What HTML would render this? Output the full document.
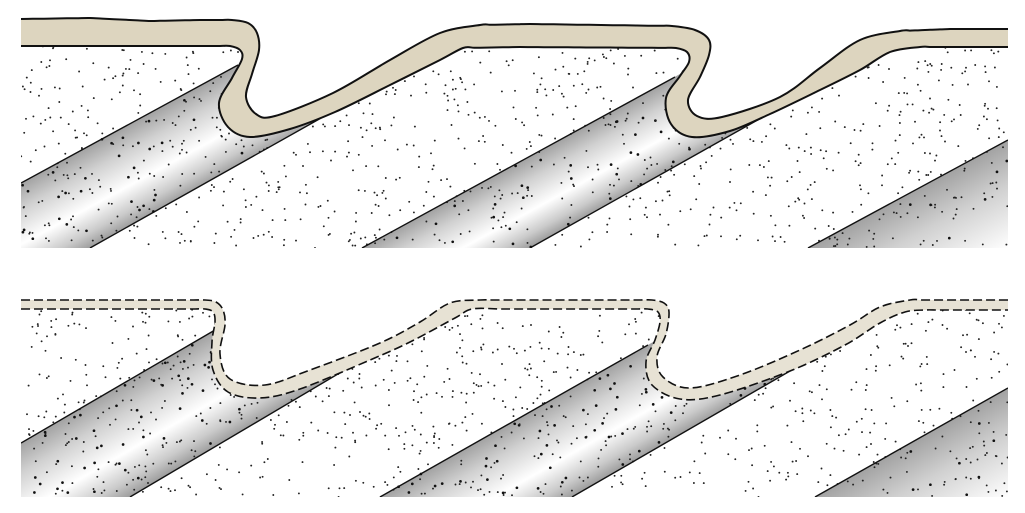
<!DOCTYPE html>
<html><head><meta charset="utf-8"><style>html,body{margin:0;padding:0;background:#fff;width:1025px;height:513px;overflow:hidden}</style></head>
<body>
<svg id="s" xmlns="http://www.w3.org/2000/svg" width="1025" height="513" viewBox="0 0 1025 513">
<defs>
<clipPath id="c1"><rect x="21" y="0" width="987" height="248"/></clipPath>
<clipPath id="c2"><rect x="21" y="280" width="987" height="217"/></clipPath>
</defs>
<g id="p1" clip-path="url(#c1)"></g>
<g id="p2" clip-path="url(#c2)"></g>
</svg>
<script>
(function(){
var NS="http://www.w3.org/2000/svg",svg=document.getElementById('s'),defs=svg.querySelector('defs');
var seed=12345;function rnd(){seed=(seed*1103515245+12345)%2147483648;return seed/2147483648;}
function el(t,a,p){var e=document.createElementNS(NS,t);for(var k in a)e.setAttribute(k,a[k]);(p||svg).appendChild(e);return e;}
function dens(pts){var r=[pts[0]];for(var i=1;i<pts.length;i++){var a=pts[i-1],b=pts[i];var dx=b[0]-a[0],dy=b[1]-a[1];
 if(Math.abs(dy)<4&&Math.abs(dx)>30){var n=Math.ceil(Math.abs(dx)/12);for(var k=1;k<n;k++)r.push([+(a[0]+dx*k/n).toFixed(1),+(a[1]+dy*k/n).toFixed(1)]);}
 r.push(b);}return r;}
function smooth(pts){pts=dens(pts);var d="M"+pts[0][0]+","+pts[0][1];for(var i=0;i<pts.length-1;i++){var p0=pts[i-1]||pts[i],p1=pts[i],p2=pts[i+1],p3=pts[i+2]||p2;
var c1=[p1[0]+(p2[0]-p0[0])/6,p1[1]+(p2[1]-p0[1])/6],c2=[p2[0]-(p3[0]-p1[0])/6,p2[1]-(p3[1]-p1[1])/6];
d+=" C"+c1[0].toFixed(1)+","+c1[1].toFixed(1)+" "+c2[0].toFixed(1)+","+c2[1].toFixed(1)+" "+p2[0]+","+p2[1];}return d;}
function inPoly(x,y,P){var c=false;for(var i=0,j=P.length-1;i<P.length;j=i++){if(((P[i][1]>y)!=(P[j][1]>y))&&(x<(P[j][0]-P[i][0])*(y-P[i][1])/(P[j][1]-P[i][1])+P[i][0]))c=!c;}return c;}
function polyArea(P){var a=0;for(var i=0,j=P.length-1;i<P.length;j=i++)a+=(P[j][0]+P[i][0])*(P[j][1]-P[i][1]);return Math.abs(a/2);}
var gid=0;
function panel(g,y0,y1,stripes,outer,inner,dashed){
  stripes.forEach(function(s){
    var id="g"+(gid++);
    var t=s.t,b=s.b;
    var dx=t[1][0]-t[0][0],dy=t[1][1]-t[0][1],L=Math.sqrt(dx*dx+dy*dy);var nx=-dy/L,ny=dx/L;if(ny<0){nx=-nx;ny=-ny;}
    var px=t[0][0],py=t[0][1];var dist;
    if(b){var bx=b[0][0],by=b[0][1];dist=(bx-px)*nx+(by-py)*ny;}else dist=160;
    var lg=el('linearGradient',{id:id,gradientUnits:'userSpaceOnUse',x1:px,y1:py,x2:px+nx*dist,y2:py+ny*dist},defs);
    [[0,'#a2a2a2'],[0.25,'#d0d0d0'],[0.6,'#ffffff'],[0.85,'#cacaca'],[1,'#9c9c9c']].forEach(function(st){el('stop',{offset:st[0],'stop-color':st[1]},lg);});
    el('polygon',{points:s.poly.map(function(p){return p.join(',')}).join(' '),fill:'url(#'+id+')'},g);
    var n=Math.round(polyArea(s.poly)/75);
    for(var i=0;i<n*3;i++){var x=21+rnd()*987,y=y0+rnd()*(y1-y0);if(inPoly(x,y,s.poly)&&rnd()<0.34)el('circle',{cx:x.toFixed(1),cy:y.toFixed(1),r:1.35,fill:'#111'},g);}
  });
  var ns=Math.round(987*(y1-y0)/190);
  for(var i=0;i<ns;i++){var x=21+rnd()*987,y=y0+rnd()*(y1-y0);el('circle',{cx:x.toFixed(1),cy:y.toFixed(1),r:0.95,fill:'#222'},g);}
  stripes.forEach(function(s){
    el('line',{x1:s.t[0][0],y1:s.t[0][1],x2:s.t[1][0],y2:s.t[1][1],stroke:'#111','stroke-width':1.4},g);
    if(s.b)el('line',{x1:s.b[0][0],y1:s.b[0][1],x2:s.b[1][0],y2:s.b[1][1],stroke:'#111','stroke-width':1.4},g);
  });
  el('path',{d:smooth(outer)+" L1012,"+(y0-20)+" L15,"+(y0-20)+" Z",fill:'#fff'},g);
  var ri=inner.slice().reverse();
  var rd=smooth(ri).replace(/^M/,"L");
  el('path',{d:smooth(outer)+" "+rd+" Z",fill:dashed?'#e7e2d4':'#ddd5bf'},g);
  var st=dashed?{fill:'none',stroke:'#111','stroke-width':1.6,'stroke-dasharray':'9,4'}:{fill:'none',stroke:'#111','stroke-width':2};
  var a=JSON.parse(JSON.stringify(st));a.d=smooth(outer);el('path',a,g);
  var b2=JSON.parse(JSON.stringify(st));b2.d=smooth(inner);el('path',b2,g);
}

var o1=[[21,19],[90,18],[150,21],[200,20],[232,20],[248,23],[257,33],[259,50],[252,74],[246,97],[256,114],[275,116],[333,93],[390,60],[440,33],[480,25],[530,24],[672,26],[695,30],[709,40],[709,55],[700,77],[688,100],[697,116],[722,117],[780,97],[820,68],[860,40],[900,31],[950,29],[1008,29]];
var i1=[[21,46],[230,46],[240,50],[242,59],[232,78],[219,103],[228,127],[250,137],[290,129],[335,112],[390,85],[440,60],[463,48],[520,47],[676,48],[687,52],[689,62],[680,76],[666,98],[671,124],[692,137],[730,131],[770,114],[820,90],[860,70],[890,52],[920,47],[1008,47]];
var s1=[
 {t:[[21,183],[238,65]],b:[[90,248],[330,113]],poly:[[21,183],[262,52],[345,104],[90,248],[21,248]]},
 {t:[[362,248],[675,77]],b:[[530,248],[770,113]],poly:[[362,248],[700,63],[790,102],[530,248]]},
 {t:[[808,248],[1008,140]],b:null,poly:[[808,248],[1008,140],[1008,248]]}
];
panel(document.getElementById('p1'),18,248,s1,o1,i1,false);

var o2=[[21,300],[205,300],[216,302],[223,310],[225,325],[220,354],[230,379],[265,385],[310,370],[380,343],[420,322],[450,303],[480,300],[652,300],[664,303],[669,312],[666,334],[657,357],[663,377],[690,388],[740,375],[800,350],[850,325],[880,307],[910,300],[1008,300]];
var i2=[[21,309],[205,309],[213,312],[215,322],[212,342],[213,370],[228,392],[260,398],[300,389],[370,360],[410,342],[455,318],[472,309],[500,309],[648,309],[658,312],[660,322],[655,340],[646,362],[652,385],[680,399],[720,395],[790,371],[845,345],[880,323],[905,312],[925,310],[1008,310]];
var s2=[
 {t:[[21,443],[215,330]],b:[[130,497],[370,355]],poly:[[21,443],[238,316],[382,348],[130,497],[21,497]]},
 {t:[[380,497],[648,345]],b:[[572,497],[835,345]],poly:[[380,497],[676,329],[852,336],[572,497]]},
 {t:[[815,497],[1008,388]],b:null,poly:[[815,497],[1008,388],[1008,497]]}
];
panel(document.getElementById('p2'),296,497,s2,o2,i2,true);
})();
</script>
</body></html>
